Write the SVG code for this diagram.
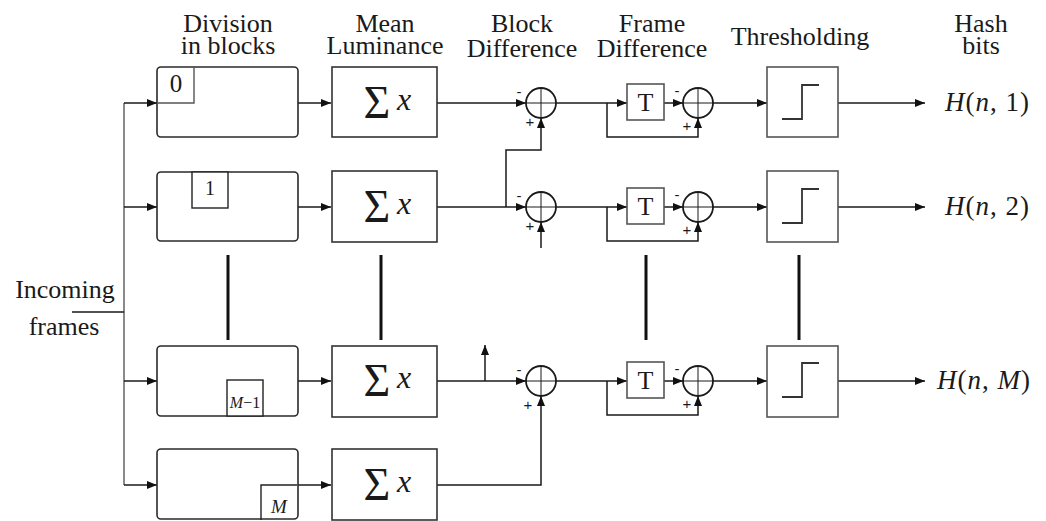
<svg xmlns="http://www.w3.org/2000/svg" width="1046" height="521" viewBox="0 0 1046 521">
  <style>
    .hdr { font-family: "Liberation Serif", "Times New Roman", serif; font-size: 26px; fill: #1a1a1a; text-anchor: middle; }
    .math { font-family: "Liberation Serif", "Times New Roman", serif; fill: #1a1a1a; }
    .it { font-style: italic; }
    .out { font-size: 27px; letter-spacing: 1px; }
    .sign { font-family: "Liberation Sans", Arial, sans-serif; font-size: 15px; fill: #1a1a1a; text-anchor: middle; }
    .blk { fill: #fff; stroke: #2a2a2a; stroke-width: 1.6; }
    .sub { fill: none; stroke: #555; stroke-width: 1.4; }
    .box { fill: #fff; stroke: #333; stroke-width: 1.6; }
    .thr { fill: #fff; stroke: #555; stroke-width: 1.6; }
    .step { fill: none; stroke: #333; stroke-width: 1.8; }
    .sum { fill: #fff; stroke: #1a1a1a; stroke-width: 1.8; }
    .cross { stroke: #1a1a1a; stroke-width: 1; }
    .wire { fill: none; stroke: #1a1a1a; stroke-width: 1.5; }
    .arr { marker-end: url(#head); }
    .bus { fill: none; stroke: #8a8a8a; stroke-width: 2; }
    .dots { stroke: #111; stroke-width: 3; }
  </style>
  <defs>
    <marker id="head" markerUnits="userSpaceOnUse" markerWidth="10" markerHeight="8" refX="10" refY="4" orient="auto">
      <path d="M0,0 L10,4 L0,8 z" fill="#111"/>
    </marker>
  </defs>
  <rect width="1046" height="521" fill="#fff"/>

  <!-- column headings -->
  <g id="headings">
    <text class="hdr" x="228" y="32">Division</text>
    <text class="hdr" x="228" y="54">in blocks</text>
    <text class="hdr" x="385" y="32">Mean</text>
    <text class="hdr" x="385" y="54">Luminance</text>
    <text class="hdr" x="522" y="32">Block</text>
    <text class="hdr" x="522" y="57">Difference</text>
    <text class="hdr" x="652" y="32">Frame</text>
    <text class="hdr" x="652" y="57">Difference</text>
    <text class="hdr" x="800" y="45">Thresholding</text>
    <text class="hdr" x="981" y="32">Hash</text>
    <text class="hdr" x="981" y="54">bits</text>
  </g>

  <g id="input">
    <text class="hdr" x="65" y="298">Incoming</text>
    <text class="hdr" x="64" y="335">frames</text>
  </g>

  <!-- connectors -->
  <g id="connectors">
    <path class="bus" d="M124,103 V485"/>
    <path class="wire" d="M72,312 H124"/>
    <!-- frames into block divisions -->
    <path class="wire arr" d="M124,103 H157"/>
    <path class="wire arr" d="M124,207 H157"/>
    <path class="wire arr" d="M124,381 H157"/>
    <path class="wire arr" d="M124,485 H157"/>
    <!-- divisions into mean luminance -->
    <path class="wire arr" d="M298,103 H331"/>
    <path class="wire arr" d="M298,207 H331"/>
    <path class="wire arr" d="M298,381 H331"/>
    <path class="wire arr" d="M261,485 H331"/>
    <!-- mean into block difference -->
    <path class="wire arr" d="M437,103 H526"/>
    <path class="wire arr" d="M437,207 H526"/>
    <path class="wire arr" d="M437,381 H526"/>
    <path class="wire arr" d="M506,207 V150 H541 V118"/>
    <path class="wire arr" d="M541,248 V222"/>
    <path class="wire arr" d="M485,381 V345"/>
    <path class="wire arr" d="M437,485 H541 V396"/>
    <!-- block difference into delay -->
    <path class="wire arr" d="M556,103 H627"/>
    <path class="wire arr" d="M556,207 H627"/>
    <path class="wire arr" d="M556,381 H627"/>
    <path class="wire arr" d="M607,103 V137 H698 V118"/>
    <path class="wire arr" d="M607,207 V241 H698 V222"/>
    <path class="wire arr" d="M607,381 V415 H698 V396"/>
    <!-- delay into frame difference -->
    <path class="wire arr" d="M664,103 H683"/>
    <path class="wire arr" d="M664,207 H683"/>
    <path class="wire arr" d="M664,381 H683"/>
    <!-- frame difference into thresholding -->
    <path class="wire arr" d="M713,103 H767"/>
    <path class="wire arr" d="M713,207 H767"/>
    <path class="wire arr" d="M713,381 H767"/>
    <!-- hash bits out -->
    <path class="wire arr" d="M838,103 H925"/>
    <path class="wire arr" d="M838,207 H925"/>
    <path class="wire arr" d="M838,381 H925"/>
    <!-- continuation marks -->
    <path class="dots" d="M228,255 V340 M381,255 V340 M646,255 V340 M799,255 V340"/>
  </g>

  <!-- block division -->
  <g id="div1">
    <rect class="blk" x="157" y="67" width="141" height="70" rx="4"/>
    <path class="sub" d="M157,103 H194 V67"/>
    <text class="math" x="176" y="92" font-size="25" text-anchor="middle">0</text>
  </g>
  <g id="div2">
    <rect class="blk" x="157" y="172" width="141" height="69" rx="4"/>
    <rect x="192" y="172" width="36" height="36" fill="#fff" stroke="#222" stroke-width="1.4"/>
    <text class="math" x="210" y="195" font-size="20" text-anchor="middle">1</text>
  </g>
  <g id="div3">
    <rect class="blk" x="157" y="346" width="141" height="70" rx="4"/>
    <rect x="227" y="380" width="36" height="36" fill="#fff" stroke="#222" stroke-width="1.4"/>
    <text class="math" x="245" y="408" font-size="16" text-anchor="middle"><tspan class="it">M</tspan>−1</text>
  </g>
  <g id="div4">
    <rect class="blk" x="157" y="449" width="141" height="70" rx="4"/>
    <path d="M261,520 V485 H297" fill="none" stroke="#222" stroke-width="1.4"/>
    <text class="math it" x="279" y="513" font-size="19" text-anchor="middle">M</text>
  </g>

  <!-- mean luminance -->
  <g id="mean1">
    <rect class="box" x="332" y="67" width="105" height="70"/>
    <text class="math" x="377" y="118" font-size="46" text-anchor="middle">Σ</text>
    <text class="math it" x="404" y="110" font-size="32" text-anchor="middle">x</text>
  </g>
  <g id="mean2">
    <rect class="box" x="332" y="171" width="105" height="71"/>
    <text class="math" x="377" y="222" font-size="46" text-anchor="middle">Σ</text>
    <text class="math it" x="404" y="214" font-size="32" text-anchor="middle">x</text>
  </g>
  <g id="mean3">
    <rect class="box" x="332" y="346" width="105" height="71"/>
    <text class="math" x="377" y="396" font-size="46" text-anchor="middle">Σ</text>
    <text class="math it" x="404" y="388" font-size="32" text-anchor="middle">x</text>
  </g>
  <g id="mean4">
    <rect class="box" x="332" y="449" width="105" height="71"/>
    <text class="math" x="377" y="500" font-size="46" text-anchor="middle">Σ</text>
    <text class="math it" x="404" y="492" font-size="32" text-anchor="middle">x</text>
  </g>

  <!-- block difference adders -->
  <g id="bdiff1">
    <circle class="sum" cx="541" cy="103" r="15"/>
    <path class="cross" d="M526,103 H556 M541,88 V118"/>
    <text class="sign" x="519" y="97">-</text>
    <text class="sign" x="530" y="127">+</text>
  </g>
  <g id="bdiff2">
    <circle class="sum" cx="541" cy="207" r="15"/>
    <path class="cross" d="M526,207 H556 M541,192 V222"/>
    <text class="sign" x="519" y="201">-</text>
    <text class="sign" x="530" y="231">+</text>
  </g>
  <g id="bdiff3">
    <circle class="sum" cx="541" cy="381" r="15"/>
    <path class="cross" d="M526,381 H556 M541,366 V396"/>
    <text class="sign" x="519" y="375">-</text>
    <text class="sign" x="528" y="410">+</text>
  </g>

  <!-- frame delays -->
  <g id="delay1">
    <rect class="thr" x="627" y="84" width="37" height="36"/>
    <text class="math" x="645.5" y="111" font-size="26" text-anchor="middle">T</text>
  </g>
  <g id="delay2">
    <rect class="thr" x="627" y="188" width="37" height="36"/>
    <text class="math" x="645.5" y="215" font-size="26" text-anchor="middle">T</text>
  </g>
  <g id="delay3">
    <rect class="thr" x="627" y="362" width="37" height="36"/>
    <text class="math" x="645.5" y="389" font-size="26" text-anchor="middle">T</text>
  </g>

  <!-- frame difference adders -->
  <g id="fdiff1">
    <circle class="sum" cx="698" cy="103" r="15"/>
    <path class="cross" d="M683,103 H713 M698,88 V118"/>
    <text class="sign" x="677" y="96">-</text>
    <text class="sign" x="687" y="131">+</text>
  </g>
  <g id="fdiff2">
    <circle class="sum" cx="698" cy="207" r="15"/>
    <path class="cross" d="M683,207 H713 M698,192 V222"/>
    <text class="sign" x="677" y="200">-</text>
    <text class="sign" x="687" y="235">+</text>
  </g>
  <g id="fdiff3">
    <circle class="sum" cx="698" cy="381" r="15"/>
    <path class="cross" d="M683,381 H713 M698,366 V396"/>
    <text class="sign" x="677" y="374">-</text>
    <text class="sign" x="687" y="409">+</text>
  </g>

  <!-- thresholding -->
  <g id="thr1">
    <rect class="thr" x="767" y="67" width="71" height="70"/>
    <path class="step" d="M782,119 H802 V85 H819"/>
  </g>
  <g id="thr2">
    <rect class="thr" x="767" y="171" width="71" height="71"/>
    <path class="step" d="M782,223 H802 V189 H819"/>
  </g>
  <g id="thr3">
    <rect class="thr" x="767" y="346" width="71" height="71"/>
    <path class="step" d="M782,397 H802 V363 H819"/>
  </g>

  <!-- hash bit outputs -->
  <g id="out1">
    <text class="math out" x="945" y="111"><tspan class="it">H</tspan>(<tspan class="it">n</tspan>, 1)</text>
  </g>
  <g id="out2">
    <text class="math out" x="945" y="215"><tspan class="it">H</tspan>(<tspan class="it">n</tspan>, 2)</text>
  </g>
  <g id="out3">
    <text class="math out" x="937" y="389"><tspan class="it">H</tspan>(<tspan class="it">n</tspan>, <tspan class="it">M</tspan>)</text>
  </g>
</svg>
